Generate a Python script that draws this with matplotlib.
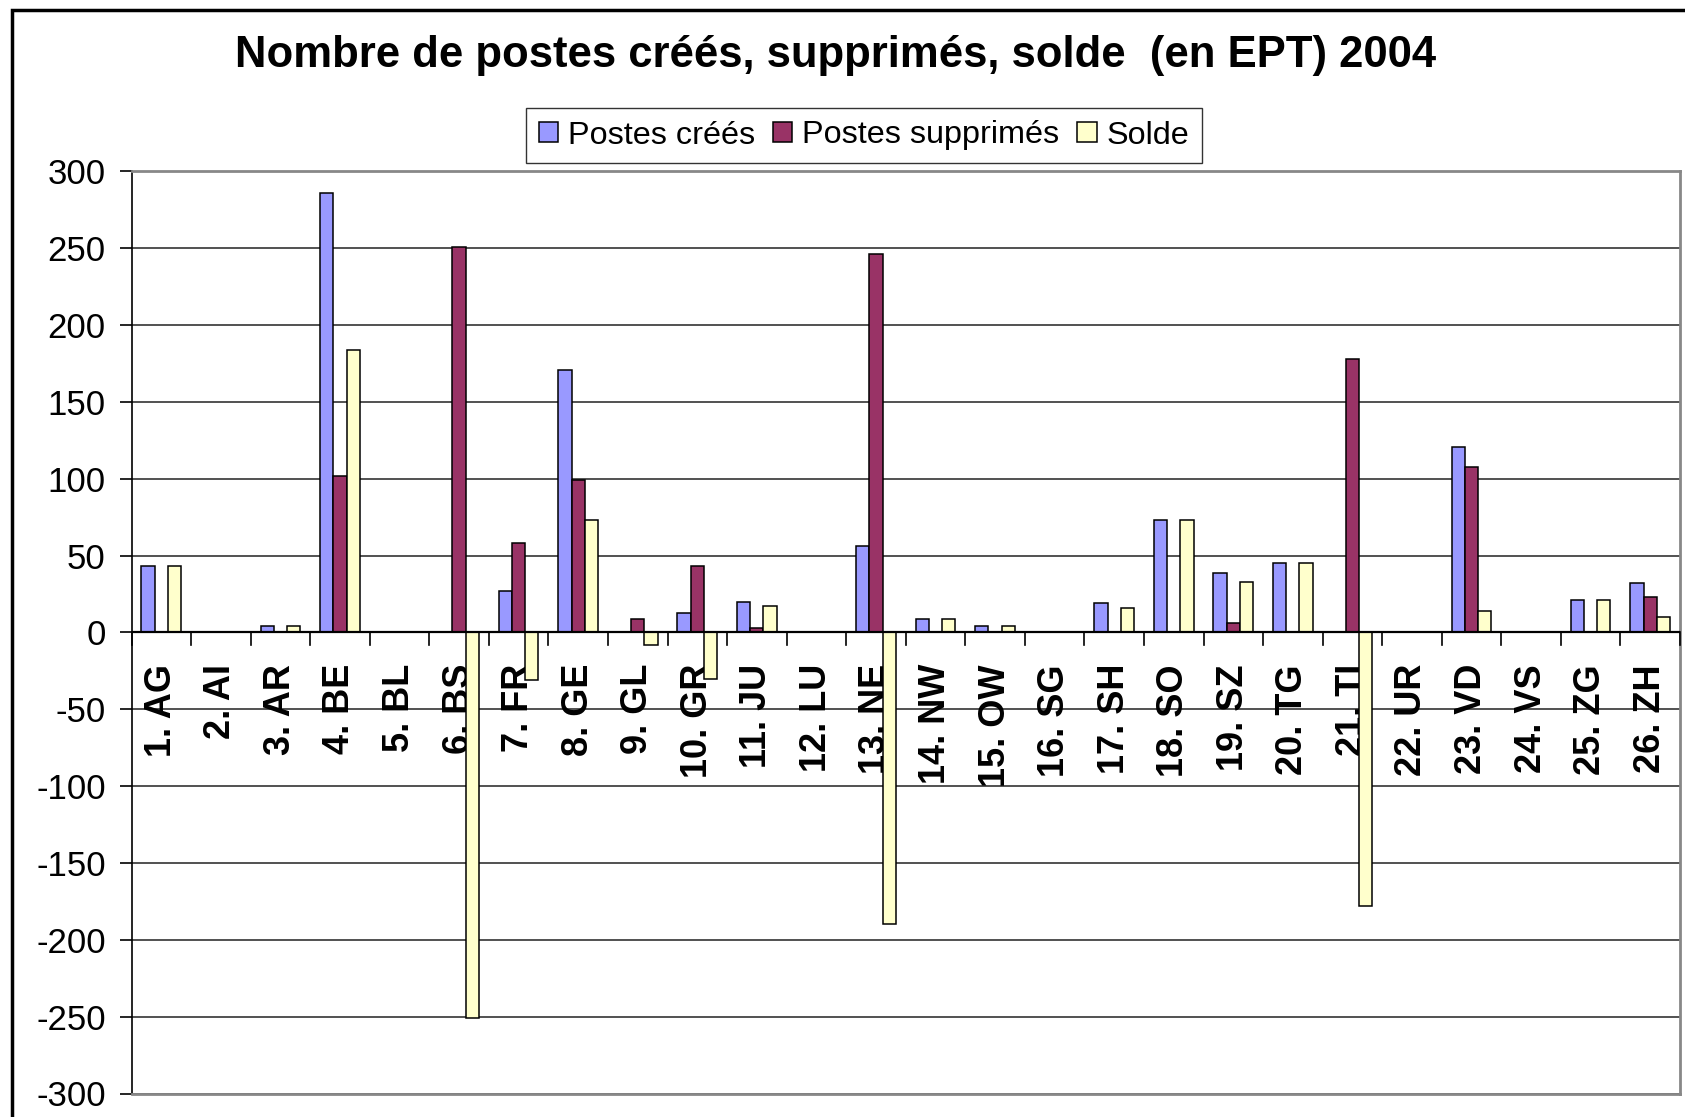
import numpy as np
import matplotlib
matplotlib.use("Agg")
import matplotlib.pyplot as plt
from matplotlib.patches import Rectangle

plt.rcParams["font.family"] = ["Liberation Sans", "DejaVu Sans"]

cantons = ["1. AG", "2. AI", "3. AR", "4. BE", "5. BL", "6. BS", "7. FR",
           "8. GE", "9. GL", "10. GR", "11. JU", "12. LU", "13. NE",
           "14. NW", "15. OW", "16. SG", "17. SH", "18. SO", "19. SZ",
           "20. TG", "21. TI", "22. UR", "23. VD", "24. VS", "25. ZG", "26. ZH"]
postes_crees = [43, 0, 4, 286, 0, 0, 27, 171, 0, 13, 20, 0, 56,
                9, 4, 0, 19, 73, 39, 45, 0, 0, 121, 0, 21, 32]
postes_supprimes = [0, 0, 0, 102, 0, 251, 58, 99, 9, 43, 3, 0, 246,
                    0, 0, 0, 0, 0, 6, 0, 178, 0, 108, 0, 0, 23]
solde = [43, 0, 4, 184, 0, -251, -31, 73, -8, -30, 17, 0, -190,
         9, 4, 0, 16, 73, 33, 45, -178, 0, 14, 0, 21, 10]
y_ticks = list(range(-300, 301, 50))

W, H = 1685, 1117
fig = plt.figure(figsize=(W / 100, H / 100), dpi=100)
ax = fig.add_axes([131.5 / W, 1 - 1093.5 / H, (1680 - 131.5) / W, (1093.5 - 171.5) / H])

x = np.arange(len(cantons))
w = 0.222
series = [
    (postes_crees, "#9999FF", "Postes créés"),
    (postes_supprimes, "#993366", "Postes supprimés"),
    (solde, "#FFFFCC", "Solde"),
]
for i, (vals, col, lab) in enumerate(series):
    ax.bar(x + (i - 1) * w, vals, width=w, color=col, edgecolor="black",
           linewidth=1.1, label=lab, zorder=2)

ax.set_xlim(-0.5, len(cantons) - 0.5)
ax.set_ylim(-300, 300)
ax.set_yticks(y_ticks)
ax.set_yticklabels([str(v) for v in y_ticks], fontsize=25)
ax.tick_params(axis="y", length=9, width=1.2, pad=9.5, direction="out")
ax.grid(axis="y", color="#333333", linewidth=1.2, zorder=0)
ax.set_axisbelow(True)
ax.axhline(0, color="black", linewidth=1.6, zorder=3)

# pas de ticks sous les libellés, seulement aux limites des catégories
ax.set_xticks(x)
ax.xaxis.set_ticks_position("none")
ax.xaxis.set_tick_params(labelbottom=False)
for b in np.arange(len(cantons) + 1) - 0.5:
    ax.plot([b, b], [0, -8], color="black", linewidth=1.2, clip_on=False, zorder=3)

# libellés des cantons sous la ligne du zéro
for xi, name in zip(x, cantons):
    ax.text(xi, -20.5, name, rotation=90, fontsize=26, fontweight="bold",
            ha="center", va="top", zorder=1)

for side in ["top", "right", "bottom"]:
    ax.spines[side].set_color("#888888")
    ax.spines[side].set_linewidth(2)
ax.spines["left"].set_color("black")
ax.spines["left"].set_linewidth(1.2)

fig.text(836 / W, 1 - 55 / H, "Nombre de postes créés, supprimés, solde  (en EPT) 2004",
         ha="center", va="center", fontsize=31.4, fontweight="bold")

leg = fig.legend(loc="center", bbox_to_anchor=(864 / W, 1 - 135.5 / H), ncol=3,
                 fontsize=23.3, frameon=True, fancybox=False, edgecolor="black",
                 handlelength=0.6, handleheight=0.6, handletextpad=0.3,
                 columnspacing=0.55, borderpad=0.4)
leg.get_frame().set_linewidth(1.0)

fig.patches.append(Rectangle((12 / W, -0.1), 1.2, 1 - 10 / H + 0.1, transform=fig.transFigure,
                             fill=False, edgecolor="black", linewidth=2.5))

fig.savefig("out.png", dpi=100)
